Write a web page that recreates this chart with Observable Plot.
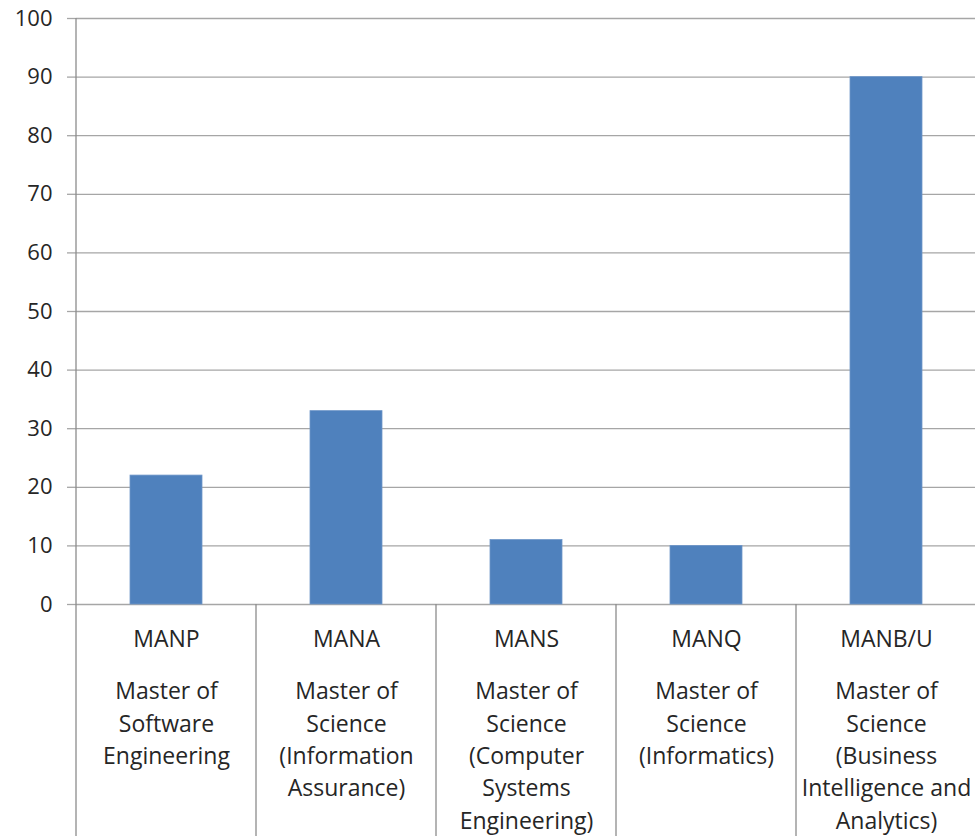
<!DOCTYPE html>
<html><head><meta charset="utf-8">
<script src="https://cdn.jsdelivr.net/npm/d3@7"></script>
<script src="https://cdn.jsdelivr.net/npm/@observablehq/plot@0.6"></script>
<style>body{margin:0;background:#fff} svg{display:block}</style>
</head><body><div id="chart"></div>
<script>
const codes = ["MANP", "MANA", "MANS", "MANQ", "MANB/U"];
const programs = [
  "Master of\nSoftware\nEngineering",
  "Master of\nScience\n(Information\nAssurance)",
  "Master of\nScience\n(Computer\nSystems\nEngineering)",
  "Master of\nScience\n(Informatics)",
  "Master of\nScience\n(Business\nIntelligence and\nAnalytics)"
];
const values = [22, 33, 11, 10, 90];
const yTicks = [0, 10, 20, 30, 40, 50, 60, 70, 80, 90, 100];

const data = codes.map((c, i) => ({code: c, program: programs[i], value: values[i]}));
const font = "'Open Sans', sans-serif";
const gridColor = "#a6a6a6";
const lineColor = "#8c8c8c";
const textColor = "#262626";

const plot = Plot.plot({
  width: 975, height: 836,
  marginTop: 18, marginBottom: 232, marginLeft: 76, marginRight: 0,
  style: {fontFamily: font, fontSize: "22px", color: textColor, background: "#fff"},
  x: {domain: codes, range: [76, 977], paddingInner: 0.6, paddingOuter: 0.3, axis: null},
  y: {domain: [0, 100], axis: null},
  marks: [
    Plot.gridY(yTicks, {stroke: gridColor, strokeOpacity: 1, strokeWidth: 1.3}),
    Plot.axisY(yTicks, {tickSize: 9, tickPadding: 15, stroke: gridColor, strokeWidth: 1.3, fill: textColor, fontSize: 22, label: null}),
    Plot.barY(data, {x: "code", y: "value", fill: "#4f81bd", stroke: "#6f97c9", strokeWidth: 0.8}),
    Plot.text(data, {x: "code", text: "code", frameAnchor: "bottom", lineAnchor: "top", dy: 26, fontSize: 23, fill: textColor}),
    Plot.text(data, {x: "code", text: "program", frameAnchor: "bottom", lineAnchor: "top", dy: 72, fontSize: 23, lineHeight: 32.3 / 23, fill: textColor})
  ]
});

// category separators derived from the band scale
const xs = plot.scale("x");
const svg = d3.select(plot);
const y0 = 836 - 232;
codes.forEach((c) => {
  const left = xs.apply(c) + xs.bandwidth / 2 - xs.step / 2;
  svg.append("line")
    .attr("x1", left).attr("x2", left)
    .attr("y1", c === codes[0] ? 18 : y0).attr("y2", 836)
    .attr("stroke", lineColor).attr("stroke-width", 1.3);
});
document.getElementById("chart").append(plot);
</script>
</body></html>
